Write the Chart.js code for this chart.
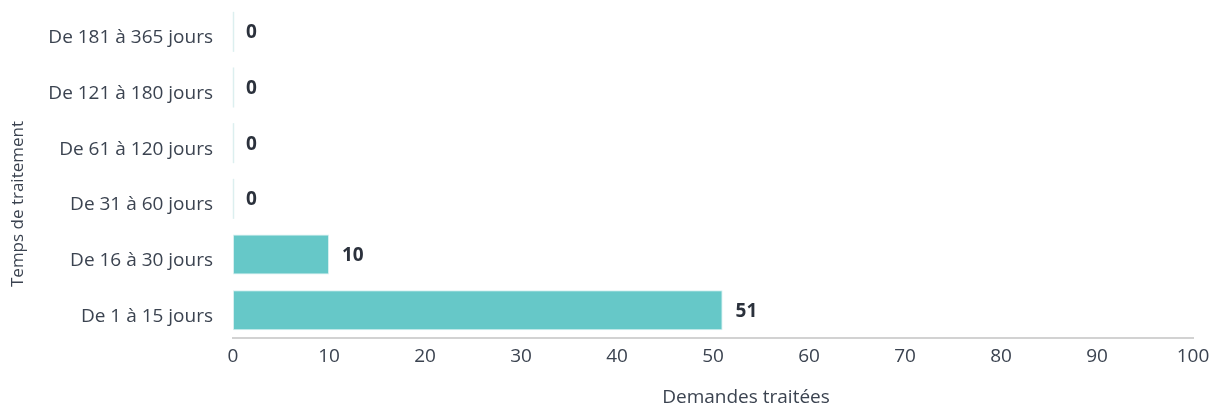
<!DOCTYPE html>
<html>
<head>
<meta charset="utf-8">
<script src="https://cdn.jsdelivr.net/npm/chart.js@4/dist/chart.umd.min.js"></script>
<style>
  html, body { margin: 0; padding: 0; background: #ffffff; }
  #wrap { width: 1211px; height: 410px; position: relative; }
</style>
</head>
<body>
<div id="wrap"><canvas id="c" width="1211" height="410"></canvas></div>
<script>
const categories = ["De 181 à 365 jours", "De 121 à 180 jours", "De 61 à 120 jours", "De 31 à 60 jours", "De 16 à 30 jours", "De 1 à 15 jours"];
const demandes = [0, 0, 0, 0, 10, 51];
const xTicksMin = 0;
const xTicksMax = 100;
const xTickStep = 10;
const xTitle = "Demandes traitées";
const yTitle = "Temps de traitement";

const FONT = "'Open Sans', 'Noto Sans', sans-serif";
const TEXT = "#3b4350";

const labelsPlugin = {
  id: 'valueLabels',
  afterDatasetsDraw(chart) {
    const ctx = chart.ctx;
    const meta = chart.getDatasetMeta(0);
    ctx.save();
    meta.data.forEach((bar, i) => {
      const v = chart.data.datasets[0].data[i];
      if (v === 0) {
        const h = bar.height;
        ctx.strokeStyle = '#dcefef';
        ctx.lineWidth = 1.5;
        ctx.beginPath();
        ctx.moveTo(bar.base + 0.5, bar.y - h / 2);
        ctx.lineTo(bar.base + 0.5, bar.y + h / 2);
        ctx.stroke();
      }
      ctx.font = "bold 19px " + FONT;
      ctx.fillStyle = "#2b313c";
      ctx.textAlign = 'left';
      ctx.textBaseline = 'middle';
      ctx.fillText(String(v), bar.x + 13, bar.y + 1);
    });
    ctx.restore();
  }
};

// Axis titles (positioned as in the reference: slightly off the plot centre)
const axisTitlesPlugin = {
  id: 'axisTitles',
  afterDraw(chart) {
    const ctx = chart.ctx;
    const area = chart.chartArea;
    ctx.save();
    ctx.fillStyle = TEXT;
    ctx.textAlign = 'center';
    ctx.textBaseline = 'middle';
    ctx.font = "19px " + FONT;
    ctx.fillText(xTitle, (area.left + area.right) / 2 + 33, chart.height - 12);
    ctx.translate(18, (area.top + area.bottom) / 2 + 33);
    ctx.rotate(-Math.PI / 2);
    ctx.font = "17px " + FONT;
    ctx.fillText(yTitle, 0, 0);
    ctx.restore();
  }
};

new Chart(document.getElementById('c'), {
  type: 'bar',
  data: {
    labels: categories,
    datasets: [{
      data: demandes,
      backgroundColor: '#66c8c8',
      borderColor: '#d4efef',
      borderWidth: 1,
      borderSkipped: false,
      barPercentage: 0.72,
      categoryPercentage: 1.0
    }]
  },
  options: {
    indexAxis: 'y',
    responsive: false,
    animation: false,
    events: [],
    layout: { padding: { left: 0, right: 18, top: 4, bottom: 0 } },
    plugins: {
      legend: { display: false },
      tooltip: { enabled: false },
      title: { display: false }
    },
    scales: {
      x: {
        min: xTicksMin,
        max: xTicksMax,
        ticks: {
          stepSize: xTickStep,
          color: TEXT,
          font: { family: FONT, size: 19 },
          padding: 7
        },
        grid: { display: false, drawTicks: false },
        border: { display: true, color: '#d2d2d2', width: 2 },
        title: { display: false },
        afterFit(scale) {
          scale.height = 72;
          scale.paddingRight = 18;
        }
      },
      y: {
        ticks: {
          color: TEXT,
          font: { family: FONT, size: 19 },
          padding: 20,
          labelOffset: 6
        },
        grid: { display: false, drawTicks: false },
        border: { display: false },
        title: { display: false },
        afterFit(scale) {
          scale.width = 233;
          scale.paddingTop = 0;
          scale.paddingBottom = 0;
        }
      }
    }
  },
  plugins: [labelsPlugin, axisTitlesPlugin]
});
</script>
</body>
</html>
